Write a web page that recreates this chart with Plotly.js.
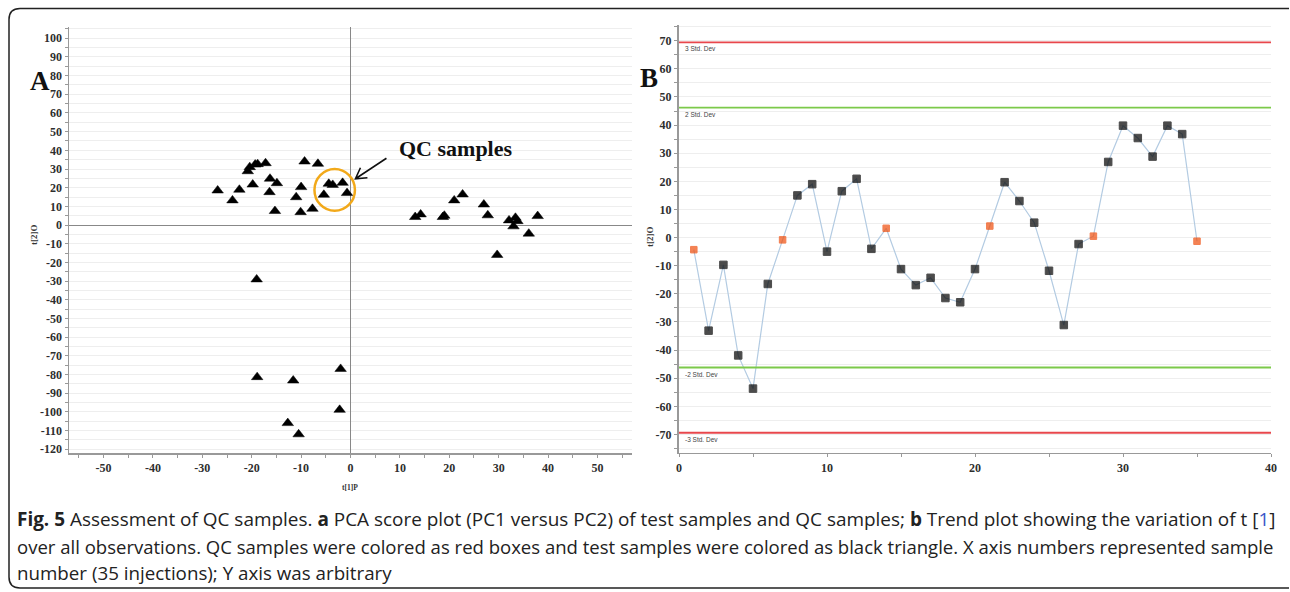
<!DOCTYPE html>
<html>
<head>
<meta charset="utf-8">
<script src="https://cdn.plot.ly/plotly-3.0.1.min.js"></script>
<style>
  html, body { margin: 0; padding: 0; background: #fff; }
  #chart { width: 1290px; height: 592px; }
</style>
</head>
<body>
<div id="chart"></div>
<script>
// ---- Panel A: PCA score plot (t[1]P vs t[2]O) ----
const pcaX = [-26.9, -23.9, -22.5, -20.8, -20.4, -19.3, -18.8, -19.8, -17.2, -16.3, -14.9, -16.4, -15.3,
              -9.3, -6.6, -10.0, -11.0, -10.1, -7.7,
              -4.4, -3.6, -1.6, -5.4, -0.7,
              13.1, 14.2, 18.7, 19.0, 21.0, 22.7, 27.0, 27.8, 32.1, 33.4, 33.0, 33.8, 36.1, 37.9, 29.7,
              -2.0, -2.2, -19.0, -18.9, -11.6, -12.7, -10.5];
const pcaY = [18.5, 13.2, 18.9, 28.8, 31.0, 32.4, 32.6, 21.7, 33.1, 24.8, 22.4, 17.6, 7.5,
              34.0, 32.8, 20.3, 14.9, 6.9, 8.7,
              22.1, 21.5, 22.6, 16.2, 17.1,
              4.3, 5.7, 4.3, 5.0, 13.2, 16.4, 11.0, 5.2, 2.5, 3.9, -0.7, 2.1, -4.6, 4.8, -16.0,
              -77.0, -98.9, -29.1, -81.4, -83.2, -106.0, -112.0];
const aXTicks = [-50, -40, -30, -20, -10, 0, 10, 20, 30, 40, 50];
const aYTicks = [-120, -110, -100, -90, -80, -70, -60, -50, -40, -30, -20, -10, 0,
                 10, 20, 30, 40, 50, 60, 70, 80, 90, 100];

// ---- Panel B: trend plot of t[2]O over observations ----
const obsNumber = [1, 2, 3, 4, 5, 6, 7, 8, 9, 10, 11, 12, 13, 14, 15, 16, 17, 18, 19, 20,
                   21, 22, 23, 24, 25, 26, 27, 28, 29, 30, 31, 32, 33, 34, 35];
const trendY = [-4.3, -33.1, -9.7, -41.9, -53.7, -16.5, -0.8, 15.0, 19.0, -5.0,
                16.5, 20.9, -4.0, 3.3, -11.2, -16.9, -14.3, -21.5, -23.0, -11.2,
                4.1, 19.7, 13.0, 5.3, -11.8, -31.1, -2.3, 0.5, 26.9, 39.8,
                35.4, 28.8, 39.8, 36.8, -1.3];
const qcObs = [1, 7, 14, 21, 28, 35];
const stdLimits = [69.4, 46.2, -46.2, -69.4];
const stdLabels = ['3 Std. Dev', '2 Std. Dev', '-2 Std. Dev', '-3 Std. Dev'];
const stdColors = ['#e8474c', '#7cc94a', '#7cc94a', '#e8474c'];
const bXTicks = [0, 10, 20, 30, 40];
const bYTicks = [-70, -60, -50, -40, -30, -20, -10, 0, 10, 20, 30, 40, 50, 60, 70];

const caption = [
  '<b>Fig. 5</b> Assessment of QC samples. <b>a</b> PCA score plot (PC1 versus PC2) of test samples and QC samples; <b>b</b> Trend plot showing the variation of t [<span style="color:#3a55c8">1</span>]',
  'over all observations. QC samples were colored as red boxes and test samples were colored as black triangle. X axis numbers represented sample',
  'number (35 injections); Y axis was arbitrary'
];

const W = 1290, H = 592;
const px = v => v / W;
const py = v => 1 - v / H;
const lbl = arr => arr.map(v => String(v));

const isQC = obsNumber.map(n => qcObs.includes(n));

const traces = [
  {
    type: 'scatter', mode: 'markers', x: pcaX, y: pcaY, xaxis: 'x', yaxis: 'y',
    marker: { symbol: 'triangle-up', size: 10, color: '#000', line: { color: '#000', width: 0.5 } },
    hoverinfo: 'x+y', showlegend: false
  },
  {
    type: 'scatter', mode: 'lines', x: obsNumber, y: trendY, xaxis: 'x2', yaxis: 'y2',
    line: { color: '#b3cbe2', width: 1.2 }, hoverinfo: 'skip', showlegend: false
  },
  {
    type: 'scatter', mode: 'markers', x: obsNumber, y: trendY, xaxis: 'x2', yaxis: 'y2',
    marker: {
      symbol: 'square',
      size: isQC.map(q => q ? 6.5 : 7.5),
      color: isQC.map(q => q ? '#f04e0c' : '#000'),
      line: { width: 1, color: isQC.map(q => q ? '#ee4a08' : '#000') }
    },
    hoverinfo: 'x+y', showlegend: false
  }
];

const tf = () => ({ family: 'Liberation Serif, Times New Roman, serif', size: 12, color: '#2e2e2e', weight: 'bold' });
const gridC = '#eeeeee';

const shapes = [
  { type: 'circle', xref: 'x', yref: 'y', x0: -7.3, x1: 0.9, y0: 7.6, y1: 30.0,
    line: { color: '#f2a91a', width: 2.5 } },
  { type: 'path', xref: 'x', yref: 'y', xsizemode: 'pixel', ysizemode: 'pixel',
    xanchor: 1.0, yanchor: 24.8,
    path: 'M 31 20.5 L 0 0 M 5 11 L 0 0 L 12 1',
    line: { color: '#111', width: 1.6 } },
  { type: 'path', xref: 'paper', yref: 'paper',
    path: `M ${px(1289)} ${py(8.5)} L ${px(20)} ${py(8.5)} Q ${px(9)} ${py(8.5)} ${px(9)} ${py(19.5)} ` +
          `L ${px(9)} ${py(577)} Q ${px(9)} ${py(588)} ${px(20)} ${py(588)} L ${px(1289)} ${py(588)}`,
    line: { color: '#222', width: 1.5 } }
];
stdLimits.forEach((v, i) => {
  shapes.push({ type: 'line', xref: 'x2 domain', yref: 'y2', x0: 0, x1: 1, y0: v, y1: v,
    line: { color: stdColors[i], width: 1.8 } });
});

const serifB = (s) => ({ family: 'Liberation Serif', size: s, color: '#111', weight: 'bold' });
const annotations = [
  { text: 'A', xref: 'paper', yref: 'paper', x: px(39.5), y: py(81), xanchor: 'center', yanchor: 'middle',
    showarrow: false, font: serifB(27) },
  { text: 'B', xref: 'paper', yref: 'paper', x: px(649), y: py(77.5), xanchor: 'center', yanchor: 'middle',
    showarrow: false, font: serifB(27) },
  { text: 'QC samples', xref: 'x', yref: 'y', x: 21.4, y: 40.9, xanchor: 'center', yanchor: 'middle',
    showarrow: false, font: serifB(22) },
  { text: 't[2]O', xref: 'paper', yref: 'paper', x: px(34), y: py(235), xanchor: 'center', yanchor: 'middle',
    showarrow: false, textangle: -90, font: { family: 'Liberation Serif', size: 9, color: '#333', weight: 'bold' } },
  { text: 't[2]O', xref: 'paper', yref: 'paper', x: px(650), y: py(237), xanchor: 'center', yanchor: 'middle',
    showarrow: false, textangle: -90, font: { family: 'Liberation Serif', size: 9, color: '#333', weight: 'bold' } },
  { text: 't[1]P', xref: 'paper', yref: 'paper', x: px(350), y: py(487), xanchor: 'center', yanchor: 'middle',
    showarrow: false, font: { family: 'Liberation Serif', size: 7.5, color: '#333', weight: 'bold' } }
];
stdLimits.forEach((v, i) => {
  annotations.push({ text: stdLabels[i], xref: 'x2', yref: 'y2', x: 0.3, y: v, xanchor: 'left', yanchor: 'top',
    yshift: -1, showarrow: false, font: { family: 'Liberation Sans', size: 6.5, color: '#444' } });
});
const capY = [519, 546, 572];
const capSize = [18.95, 18.55, 18.75];
caption.forEach((t, i) => {
  annotations.push({ text: t, xref: 'paper', yref: 'paper', x: px(15), y: py(capY[i]), xanchor: 'left',
    yanchor: 'middle', showarrow: false, align: 'left',
    font: { family: 'Open Sans', size: capSize[i], color: '#222' } });
});

const axisBase = () => ({
  ticks: 'outside', ticklen: 3, tickcolor: '#999', tickfont: tf(), tickmode: 'array',
  showline: true, linecolor: '#999', linewidth: 1.5
});

const layout = {
  width: W, height: H,
  margin: { l: 0, r: 0, t: 0, b: 0 },
  paper_bgcolor: '#fff', plot_bgcolor: '#fff',
  font: { family: 'Liberation Serif', size: 11, color: '#333' },
  showlegend: false,
  xaxis: Object.assign(axisBase(), {
    domain: [px(69), px(632)], range: [-57, 57], anchor: 'y',
    tickvals: aXTicks, ticktext: lbl(aXTicks), showgrid: false,
    zeroline: true, zerolinecolor: '#888', zerolinewidth: 1,
    minor: { tickmode: 'linear', tick0: 0, dtick: 5, ticks: 'outside', ticklen: 3, tickcolor: '#999', showgrid: false }
  }),
  yaxis: Object.assign(axisBase(), {
    domain: [py(453), py(27)], range: [-122, 106], anchor: 'x',
    tickvals: aYTicks, ticktext: lbl(aYTicks), showgrid: true, gridcolor: gridC,
    zeroline: true, zerolinecolor: '#888', zerolinewidth: 1,
    minor: { tickmode: 'linear', tick0: 0, dtick: 5, ticks: 'outside', ticklen: 3, tickcolor: '#999', showgrid: true, gridcolor: gridC }
  }),
  xaxis2: Object.assign(axisBase(), {
    domain: [px(679), px(1271)], range: [0, 40], anchor: 'y2',
    tickvals: bXTicks, ticktext: lbl(bXTicks), showgrid: false, zeroline: false,
    minor: { tickmode: 'linear', tick0: 0, dtick: 5, ticks: 'outside', ticklen: 3, tickcolor: '#999', showgrid: false }
  }),
  yaxis2: Object.assign(axisBase(), {
    domain: [py(452.7), py(25)], range: [-76.5, 75.6], anchor: 'x2', linewidth: 2,
    tickvals: bYTicks, ticktext: lbl(bYTicks), showgrid: true, gridcolor: gridC, zeroline: false,
    minor: { tickmode: 'linear', tick0: 0, dtick: 5, ticks: 'outside', ticklen: 3, tickcolor: '#999', showgrid: true, gridcolor: gridC }
  }),
  shapes: shapes,
  annotations: annotations
};

Plotly.newPlot('chart', traces, layout, { displayModeBar: false, staticPlot: true });
</script>
</body>
</html>
